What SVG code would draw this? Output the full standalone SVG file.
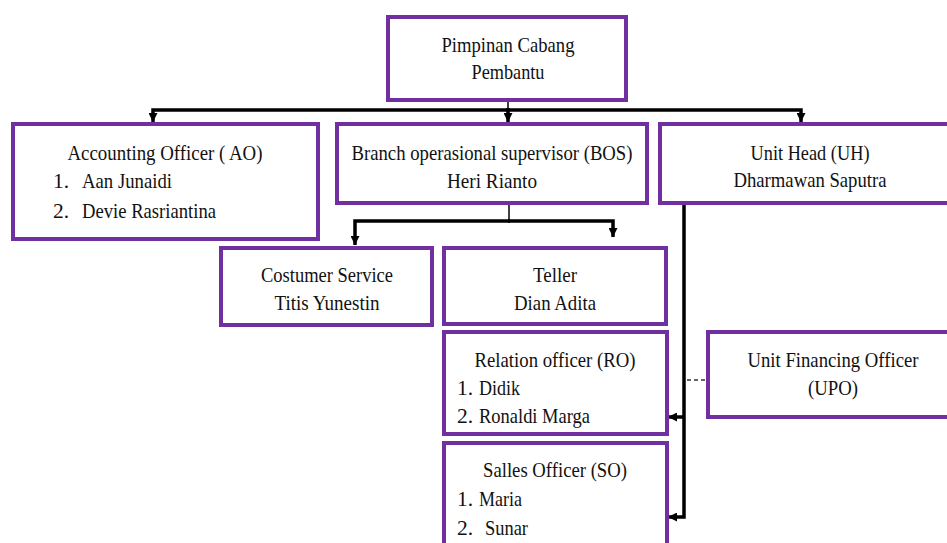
<svg xmlns="http://www.w3.org/2000/svg" width="947" height="543" viewBox="0 0 947 543">
<style>
.box{fill:#fff;stroke:#7030A0;stroke-width:4}
.t{font-family:"Liberation Serif","Times New Roman",serif;font-size:21.5px;fill:#111;text-anchor:middle}
.l{font-family:"Liberation Serif","Times New Roman",serif;font-size:21.5px;fill:#111;text-anchor:start}
.c{fill:none;stroke:#000;stroke-width:3.5}
.thin{fill:none;stroke:#000;stroke-width:1.5}
.dash{fill:none;stroke:#333;stroke-width:1.5;stroke-dasharray:4 3}
</style>
<defs>
<marker id="ar" viewBox="0 0 10 10" refX="10" refY="5" markerWidth="9" markerHeight="9" markerUnits="userSpaceOnUse" orient="auto">
<path d="M0,0 L10,5 L0,10 z" fill="#000"/>
</marker>
</defs>
<rect width="947" height="543" fill="#fff"/>
<g id="connectors">
<path class="thin" d="M508,100 V110"/>
<path class="c" d="M508,110 V122" marker-end="url(#ar)"/>
<path class="c" d="M510,110 H153 V122" marker-end="url(#ar)"/>
<path class="c" d="M506,110 H801 V122" marker-end="url(#ar)"/>
<path class="thin" d="M509,204 V221"/>
<path class="c" d="M510,221 H355 V245" marker-end="url(#ar)"/>
<path class="c" d="M508,221 H613 V237" marker-end="url(#ar)"/>
<path class="c" d="M684,204 V517 H668" marker-end="url(#ar)"/>
<path class="c" d="M684,417 H668" marker-end="url(#ar)"/>
<path class="dash" d="M687,380 H707"/>
</g>
<g id="pimpinan">
<rect class="box" x="388" y="17" width="238" height="83"/>
<text class="t" x="508" y="52" textLength="133" lengthAdjust="spacingAndGlyphs">Pimpinan Cabang</text>
<text class="t" x="508" y="79" textLength="73" lengthAdjust="spacingAndGlyphs">Pembantu</text>
</g>
<g id="ao">
<rect class="box" x="13" y="124" width="305" height="115"/>
<text class="t" x="165" y="160" textLength="195" lengthAdjust="spacingAndGlyphs">Accounting Officer ( AO)</text>
<text class="l" x="53" y="188">1.</text>
<text class="l" x="82" y="188" textLength="90" lengthAdjust="spacingAndGlyphs">Aan Junaidi</text>
<text class="l" x="53" y="218">2.</text>
<text class="l" x="82" y="218" textLength="134" lengthAdjust="spacingAndGlyphs">Devie Rasriantina</text>
</g>
<g id="bos">
<rect class="box" x="337" y="124" width="310" height="79"/>
<text class="t" x="492" y="160" textLength="281" lengthAdjust="spacingAndGlyphs">Branch operasional supervisor (BOS)</text>
<text class="t" x="492" y="188" textLength="90" lengthAdjust="spacingAndGlyphs">Heri Rianto</text>
</g>
<g id="uh">
<rect class="box" x="660" y="124" width="300" height="79"/>
<text class="t" x="810" y="160" textLength="119" lengthAdjust="spacingAndGlyphs">Unit Head (UH)</text>
<text class="t" x="810" y="187" textLength="153" lengthAdjust="spacingAndGlyphs">Dharmawan Saputra</text>
</g>
<g id="cs">
<rect class="box" x="221" y="248" width="211" height="77"/>
<text class="t" x="327" y="282" textLength="132" lengthAdjust="spacingAndGlyphs">Costumer Service</text>
<text class="t" x="327" y="310" textLength="105" lengthAdjust="spacingAndGlyphs">Titis Yunestin</text>
</g>
<g id="teller">
<rect class="box" x="444" y="248" width="222" height="76"/>
<text class="t" x="555" y="282" textLength="44" lengthAdjust="spacingAndGlyphs">Teller</text>
<text class="t" x="555" y="310" textLength="82" lengthAdjust="spacingAndGlyphs">Dian Adita</text>
</g>
<g id="ro">
<rect class="box" x="444" y="332" width="223" height="102"/>
<text class="t" x="555" y="367" textLength="161" lengthAdjust="spacingAndGlyphs">Relation officer (RO)</text>
<text class="l" x="457" y="395">1.</text>
<text class="l" x="479" y="395" textLength="41" lengthAdjust="spacingAndGlyphs">Didik</text>
<text class="l" x="457" y="423">2.</text>
<text class="l" x="479" y="423" textLength="111" lengthAdjust="spacingAndGlyphs">Ronaldi Marga</text>
</g>
<g id="so">
<rect class="box" x="444" y="443" width="223" height="120"/>
<text class="t" x="555" y="477" textLength="144" lengthAdjust="spacingAndGlyphs">Salles Officer (SO)</text>
<text class="l" x="457" y="506">1.</text>
<text class="l" x="479" y="506" textLength="43" lengthAdjust="spacingAndGlyphs">Maria</text>
<text class="l" x="457" y="535">2.</text>
<text class="l" x="485" y="535" textLength="43" lengthAdjust="spacingAndGlyphs">Sunar</text>
</g>
<g id="upo">
<rect class="box" x="708" y="332" width="252" height="85"/>
<text class="t" x="833" y="367" textLength="171" lengthAdjust="spacingAndGlyphs">Unit Financing Officer</text>
<text class="t" x="833" y="395" textLength="50" lengthAdjust="spacingAndGlyphs">(UPO)</text>
</g>
</svg>
